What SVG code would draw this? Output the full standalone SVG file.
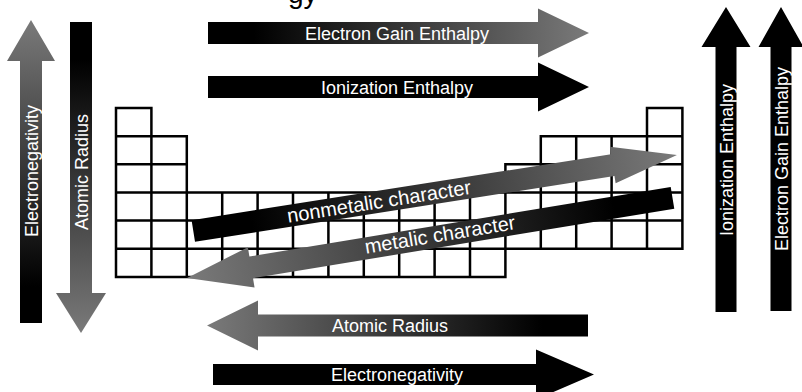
<svg xmlns="http://www.w3.org/2000/svg" width="802" height="392" viewBox="0 0 802 392">
<style>
.lbl{font-family:"Liberation Sans",Arial,sans-serif;font-size:18px;fill:#fff;text-anchor:middle}
.dlbl{font-family:"Liberation Sans",Arial,sans-serif;font-size:20px;fill:#fff;text-anchor:middle}
.grid{fill:none;stroke:#000;stroke-width:2.5;stroke-linecap:square}
.solid{fill:#000}
.grad{fill:url(#fade)}
</style>
<defs>
<linearGradient id="fade" x1="0" y1="0" x2="1" y2="0">
<stop offset="0.12" stop-color="#000"/>
<stop offset="1" stop-color="#7a7a7a"/>
</linearGradient>
</defs>
<rect width="802" height="392" fill="#fff"/>
<text x="288" y="3" style="font-family:'Liberation Sans',Arial,sans-serif;font-size:28px;fill:#000">gy</text>
<g id="table">
<path class="grid" d="M116,108H151.4M647,108H682.4M116,136.15H186.8M540.8,136.15H682.4M116,164.3H186.8M505.4,164.3H682.4M116,192.45H682.4M116,220.6H682.4M116,248.75H682.4M116,276.9H505.4M116,108V276.9M151.4,108V276.9M186.8,136.15V276.9M222.2,192.45V276.9M257.6,192.45V276.9M293,192.45V276.9M328.4,192.45V276.9M363.8,192.45V276.9M399.2,192.45V276.9M434.6,192.45V276.9M470,192.45V276.9M505.4,164.3V276.9M540.8,136.15V248.75M576.2,136.15V248.75M611.6,136.15V248.75M647,108V248.75M682.4,108V248.75"/>
</g>
<g id="connectors">
<g id="arrow-left-electronegativity" transform="translate(31,323) rotate(-90)">
<path class="grad" d="M0,-11H262V-24L303,0L262,24V11H0Z"/>
<text class="lbl" x="152" y="6.5">Electronegativity</text>
</g>
<g id="arrow-left-atomic-radius">
<path class="grad" transform="translate(81,22) rotate(90)" d="M0,-11H271V-25L311,0L271,25V11H0Z"/>
<text class="lbl" transform="translate(81,172) rotate(-90)" y="6.5">Atomic Radius</text>
</g>
<g id="arrow-top-electron-gain" transform="translate(208,33)">
<path class="grad" d="M0,-11H330V-24.5L381,0L330,24.5V11H0Z"/>
<text class="lbl" x="189" y="6.5">Electron Gain Enthalpy</text>
</g>
<g id="arrow-top-ionization" transform="translate(208,87)">
<path class="solid" d="M0,-11H330V-24.5L381,0L330,24.5V11H0Z"/>
<text class="lbl" x="189" y="6.5">Ionization Enthalpy</text>
</g>
<g id="arrow-right-ionization" transform="translate(726,312) rotate(-90)">
<path class="solid" d="M0,-10.5H265V-24.5L305,0L265,24.5V10.5H0Z"/>
<text class="lbl" x="152" y="6.5">Ionization Enthalpy</text>
</g>
<g id="arrow-right-electron-gain" transform="translate(781,311) rotate(-90)">
<path class="solid" d="M0,-10.5H264V-22.5L304,0L264,22.5V10.5H0Z"/>
<text class="lbl" x="152" y="6.5">Electron Gain Enthalpy</text>
</g>
<g id="arrow-bottom-atomic-radius">
<path class="grad" transform="translate(588,325.5) rotate(180)" d="M0,-11H330V-25L381,0L330,25V11H0Z"/>
<text class="lbl" x="390" y="332">Atomic Radius</text>
</g>
<g id="arrow-bottom-electronegativity" transform="translate(213,374.5)">
<path class="solid" d="M0,-10.5H323V-25L381,0L323,25V10.5H0Z"/>
<text class="lbl" x="184" y="6.5">Electronegativity</text>
</g>
<g id="arrow-nonmetalic" transform="translate(193.3,231) rotate(-8.93)">
<path class="grad" d="M0,-11H424.6V-18.5L489.6,0L424.6,18.5V11H0Z"/>
<text class="dlbl" x="188" y="6.5">nonmetalic character</text>
</g>
<g id="arrow-metalic">
<path class="grad" transform="translate(672.5,197.8) rotate(170.62)" d="M0,-11H427V-20.5L492,0L427,20.5V11H0Z"/>
<text class="dlbl" transform="translate(440,235) rotate(-9.38)" y="6.5">metalic character</text>
</g>
</g>
</svg>
